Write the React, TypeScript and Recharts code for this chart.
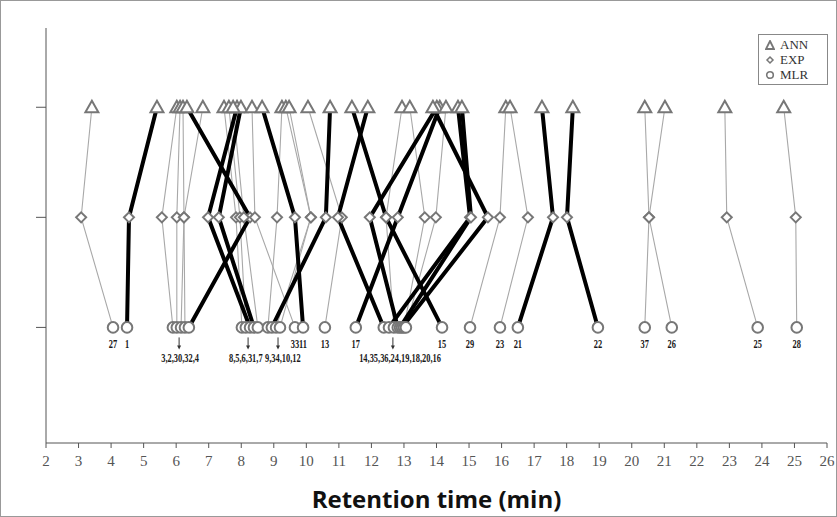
import React from "react";
import { ScatterChart, Scatter, XAxis, YAxis, Label } from "recharts";

// compound numbers, in the order they sit along the MLR row
const compoundIds = [27, 1, 3, 2, 30, 32, 4, 8, 5, 6, 31, 7, 9, 34, 10, 12, 33, 11, 13, 17, 14, 35, 36, 24, 19, 18, 20, 16, 15, 29, 23, 21, 22, 37, 26, 25, 28];
const annTimes = [3.41, 5.41, 6.02, 6.12, 6.21, 6.82, 6.33, 7.47, 7.62, 7.87, 7.99, 7.75, 9.25, 10.73, 9.37, 9.47, 8.33, 8.64, 10.05, 14.1, 11.89, 14.66, 12.94, 14.01, 14.78, 13.89, 13.18, 14.29, 11.4, 16.13, 16.26, 17.24, 18.19, 20.4, 21.02, 22.86, 24.67];
const expTimes = [3.08, 4.55, 5.56, 6.02, 6.24, 6.24, 8.27, 7.84, 7.96, 6.98, 7.31, 8.08, 9.1, 10.6, 10.14, 10.14, 8.42, 9.65, 11.09, 12.81, 10.97, 15.03, 12.45, 11.95, 15.06, 15.58, 13.64, 13.98, 12.45, 15.95, 16.81, 17.58, 18.01, 20.53, 20.53, 22.92, 25.04];
const mlrTimes = [4.06, 4.49, 5.9, 6.02, 6.15, 6.27, 6.39, 8.02, 8.14, 8.27, 8.39, 8.51, 8.82, 8.94, 9.07, 9.19, 9.65, 9.9, 10.57, 11.52, 12.38, 12.54, 12.69, 12.81, 12.88, 12.94, 13.0, 13.06, 14.17, 15.03, 15.95, 16.5, 18.96, 20.4, 21.23, 23.87, 25.07];
// compounds whose link is drawn as a heavy black line
const thickIds = [1, 4, 6, 31, 34, 11, 17, 14, 35, 24, 19, 18, 15, 21, 22];

// crowded MLR circles share one label with an arrow
const groupLabels = ["3,2,30,32,4", "8,5,6,31,7", "9,34,10,12", "14,35,36,24,19,18,20,16"];
const groupMembers = [[3, 2, 30, 32, 4], [8, 5, 6, 31, 7], [9, 34, 10, 12], [14, 35, 36, 24, 19, 18, 20, 16]];
const groupArrowTimes = [6.09, 8.21, 9.13, 12.66];
const groupTextTimes = [6.12, 8.14, 9.28, 12.88];

const xTicks = [2, 3, 4, 5, 6, 7, 8, 9, 10, 11, 12, 13, 14, 15, 16, 17, 18, 19, 20, 21, 22, 23, 24, 25, 26];
const ANN = 3;
const EXP = 2;
const MLR = 1;

const MARK = "#777";

const links = compoundIds.map((id, i) => ({
  id,
  thick: thickIds.includes(id),
  pts: [
    { x: annTimes[i], y: ANN },
    { x: expTimes[i], y: EXP },
    { x: mlrTimes[i], y: MLR },
  ],
}));
const thinLinks = links.filter((l) => !l.thick);
const heavyLinks = links.filter((l) => l.thick);

const annPts = annTimes.map((x) => ({ x, y: ANN }));
const expPts = expTimes.map((x) => ({ x, y: EXP }));
const mlrPts = mlrTimes.map((x) => ({ x, y: MLR }));

const grouped = groupMembers.flat();
const singleLabels = compoundIds
  .map((id, i) => ({ x: mlrTimes[i], y: MLR, text: String(id) }))
  .filter((d) => !grouped.includes(Number(d.text)));
const arrowPts = groupArrowTimes.map((x) => ({ x, y: MLR }));
const groupTextPts = groupLabels.map((text, i) => ({ x: groupTextTimes[i], y: MLR, text }));

const Nothing = () => <g />;

const Triangle = (p: any) => (
  <path
    d={`M${p.cx},${p.cy - 6.5} L${p.cx + 6.5},${p.cy + 5} L${p.cx - 6.5},${p.cy + 5} Z`}
    fill="#fff"
    stroke={MARK}
    strokeWidth={2}
  />
);
const Diamond = (p: any) => (
  <path
    d={`M${p.cx},${p.cy - 5} L${p.cx + 5},${p.cy} L${p.cx},${p.cy + 5} L${p.cx - 5},${p.cy} Z`}
    fill="#fff"
    stroke={MARK}
    strokeWidth={2}
  />
);
const Ring = (p: any) => <circle cx={p.cx} cy={p.cy} r={5.3} fill="#fff" stroke={MARK} strokeWidth={2} />;

// the figure uses a narrow bold serif for the compound numbers
const labelFont = { fontFamily: "'Liberation Serif', serif", fontWeight: 700, fontSize: 12, fill: "#1a1a1a" };

const NumLabel = (p: any) => (
  <g transform={`translate(${p.cx},${p.cy + 21}) scale(0.7,1)`}>
    <text x={0} y={0} textAnchor="middle" style={labelFont}>
      {p.payload.text}
    </text>
  </g>
);
const Arrow = (p: any) => (
  <g stroke="#333" fill="#333">
    <line x1={p.cx} y1={p.cy + 10} x2={p.cx} y2={p.cy + 20} strokeWidth={1} />
    <path d={`M${p.cx - 2},${p.cy + 18} L${p.cx + 2},${p.cy + 18} L${p.cx},${p.cy + 22} Z`} stroke="none" />
  </g>
);
const GroupText = (p: any) => (
  <g transform={`translate(${p.cx},${p.cy + 35}) scale(0.7,1)`}>
    <text x={0} y={0} textAnchor="middle" style={labelFont}>
      {p.payload.text}
    </text>
  </g>
);

const legendItems = [
  { name: "ANN", icon: "tri" },
  { name: "EXP", icon: "dia" },
  { name: "MLR", icon: "circ" },
];

const LegendIcon = ({ icon }: { icon: string }) => (
  <svg width={10} height={10} style={{ marginRight: 5 }}>
    {icon === "tri" && <path d="M5,1 L9,9 L1,9 Z" fill="#fff" stroke={MARK} strokeWidth={1.8} />}
    {icon === "dia" && <path d="M5,2 L8,5 L5,8 L2,5 Z" fill="#fff" stroke={MARK} strokeWidth={1.5} />}
    {icon === "circ" && <circle cx={5} cy={5} r={3.3} fill="#fff" stroke={MARK} strokeWidth={1.6} />}
  </svg>
);

export default function App() {
  return (
    <div style={{ position: "absolute", left: 0, top: 0, width: 837, height: 517, background: "#fff" }}>
      <ScatterChart width={837} height={517} margin={{ top: 28, right: 10, bottom: 0, left: 38 }}>
        <XAxis
          type="number"
          dataKey="x"
          domain={[2, 26]}
          ticks={xTicks}
          interval={0}
          height={74}
          tickSize={5}
          tickMargin={7}
          stroke="#555"
          tick={{ fill: "#555", fontSize: 15, fontFamily: "'Liberation Serif', serif" }}
          allowDataOverflow
        >
          <Label
            value="Retention time (min)"
            position="insideBottom"
            offset={9}
            style={{ fontFamily: "'Open Sans', sans-serif", fontWeight: 700, fontSize: 24, fill: "#111" }}
          />
        </XAxis>
        <YAxis
          type="number"
          dataKey="y"
          domain={[-0.05, 3.72]}
          ticks={[1, 2, 3]}
          width={8}
          tickSize={10}
          stroke="#555"
          tickFormatter={() => ""}
          allowDataOverflow
        />
        {thinLinks.map((l) => (
          <Scatter
            key={`thin-${l.id}`}
            data={l.pts}
            line={{ stroke: "#a8a8a8", strokeWidth: 1.1 }}
            shape={Nothing}
            isAnimationActive={false}
          />
        ))}
        {heavyLinks.map((l) => (
          <Scatter
            key={`thick-${l.id}`}
            data={l.pts}
            line={{ stroke: "#000", strokeWidth: 4 }}
            shape={Nothing}
            isAnimationActive={false}
          />
        ))}
        <Scatter name="ANN" data={annPts} shape={Triangle} isAnimationActive={false} />
        <Scatter name="EXP" data={expPts} shape={Diamond} isAnimationActive={false} />
        <Scatter name="MLR" data={mlrPts} shape={Ring} isAnimationActive={false} />
        <Scatter data={singleLabels} shape={NumLabel} isAnimationActive={false} />
        <Scatter data={arrowPts} shape={Arrow} isAnimationActive={false} />
        <Scatter data={groupTextPts} shape={GroupText} isAnimationActive={false} />
      </ScatterChart>
      <div
        style={{
          position: "absolute",
          left: 758,
          top: 34,
          width: 62,
          border: "1px solid #888",
          padding: "2px 0 2px 6px",
          fontFamily: "'Liberation Serif', serif",
          fontSize: 13,
          color: "#333",
          lineHeight: "15px",
          background: "#fff",
        }}
      >
        {legendItems.map((it) => (
          <div key={it.name} style={{ display: "flex", alignItems: "center" }}>
            <LegendIcon icon={it.icon} />
            <span>{it.name}</span>
          </div>
        ))}
      </div>
      <div
        style={{
          position: "absolute",
          left: 0,
          top: 0,
          width: 837,
          height: 517,
          boxSizing: "border-box",
          border: "1px solid #999",
          pointerEvents: "none",
        }}
      />
    </div>
  );
}
